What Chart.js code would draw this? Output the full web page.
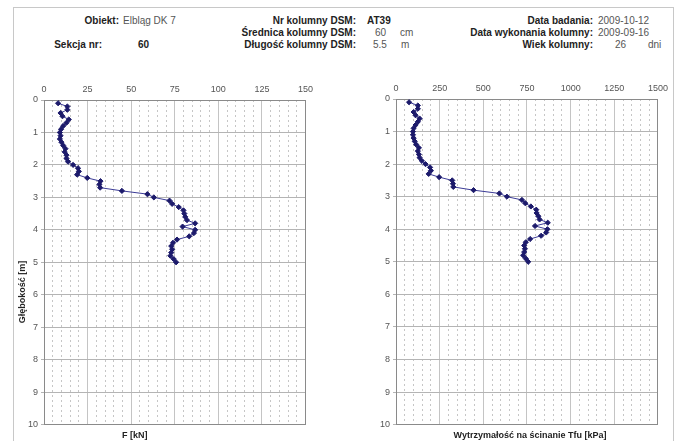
<!DOCTYPE html>
<html>
<head>
<meta charset="utf-8">
<script src="https://cdn.jsdelivr.net/npm/chart.js@4.4.1/dist/chart.umd.min.js"></script>
<style>
  body { margin: 0; background: #fff; font-family: "Liberation Sans", Arial, sans-serif; }
  #page { position: relative; width: 680px; height: 441px; overflow: hidden; }
  #frame { position: absolute; left: 13px; top: 7px; width: 659px; height: 440px;
           border: 1px solid #c8c8c8; border-bottom: none; }
  .t { position: absolute; font-size: 10px; line-height: 12px; color: #555; white-space: nowrap; }
  .b { font-weight: bold; color: #222; }
  .r { text-align: right; }
  canvas { position: absolute; }
</style>
</head>
<body>
<div id="page">
  <div id="frame"></div>

  <!-- header block -->
  <div class="t b r" style="left:0; width:119px; top:15px;">Obiekt:</div>
  <div class="t" style="left:123px; top:15px;">Elbląg DK 7</div>
  <div class="t b r" style="left:0; width:102px; top:39px;">Sekcja nr:</div>
  <div class="t b" style="left:138px; top:39px;">60</div>

  <div class="t b r" style="left:200px; width:156px; top:15px;">Nr kolumny DSM:</div>
  <div class="t b r" style="left:200px; width:156px; top:27px;">Średnica kolumny DSM:</div>
  <div class="t b r" style="left:200px; width:156px; top:39px;">Długość kolumny DSM:</div>
  <div class="t b" style="left:367px; top:15px;">AT39</div>
  <div class="t" style="left:375px; top:27px;">60</div>
  <div class="t" style="left:400px; top:27px;">cm</div>
  <div class="t" style="left:373px; top:39px;">5.5</div>
  <div class="t" style="left:401px; top:39px;">m</div>

  <div class="t b r" style="left:400px; width:193px; top:15px;">Data badania:</div>
  <div class="t b r" style="left:400px; width:193px; top:27px;">Data wykonania kolumny:</div>
  <div class="t b r" style="left:400px; width:193px; top:39px;">Wiek kolumny:</div>
  <div class="t" style="left:598px; top:15px;">2009-10-12</div>
  <div class="t" style="left:598px; top:27px;">2009-09-16</div>
  <div class="t" style="left:615px; top:39px;">26</div>
  <div class="t" style="left:648px; top:39px;">dni</div>

  <canvas id="forceChart" style="left:20px; top:78px;" width="298" height="355"></canvas>
  <canvas id="shearChart" style="left:372px; top:77px;" width="301" height="356"></canvas>

  <div class="t b" style="left:-28px; top:286px; width:100px; text-align:center; font-size:9px; transform: rotate(-90deg);">Głębokość [m]</div>
  <div class="t b" style="left:122px; top:429px; font-size:9px;">F [kN]</div>
  <div class="t b" style="left:430px; width:200px; top:429px; text-align:center; font-size:9px;">Wytrzymałość na ścinanie Tfu [kPa]</div>
</div>

<script>
// Sounding depths [m]
const depths = [
  0.1, 0.2, 0.3, 0.4, 0.5, 0.6, 0.7, 0.8, 0.9, 1.0,
  1.1, 1.2, 1.3, 1.4, 1.5, 1.6, 1.7, 1.8, 1.9, 2.0,
  2.1, 2.2, 2.3, 2.4, 2.5, 2.6, 2.7, 2.8, 2.9, 3.0,
  3.1, 3.2, 3.3, 3.4, 3.5, 3.6, 3.7, 3.8, 3.9, 4.0,
  4.1, 4.2, 4.3, 4.4, 4.5, 4.6, 4.7, 4.8, 4.9, 5.0,
];

// Force F [kN]
const forceKN = [
  8.1, 13.4, 13.4, 9.5, 10.6, 14.2, 12.9, 11.0, 9.8, 9.1,
  9.5, 9.1, 10.0, 11.0, 12.3, 11.9, 12.9, 12.9, 13.8, 16.7,
  19.5, 20.0, 19.0, 24.8, 32.4, 31.8, 32.2, 44.7, 59.3, 63.0,
  72.0, 73.5, 77.3, 80.0, 80.5, 81.0, 82.0, 86.7, 79.5, 86.7,
  86.0, 83.3, 76.3, 74.0, 73.0, 73.5, 73.0, 72.5, 74.4, 75.8,
];

// Shear strength Tfu [kPa]
const shearKPa = [
  75, 125, 125, 101, 112, 135, 125, 112, 101, 97,
  97, 101, 107, 116, 131, 125, 131, 135, 148, 169,
  195, 200, 187, 247, 322, 326, 328, 444, 592, 635,
  721, 740, 772, 803, 805, 815, 822, 869, 796, 867,
  860, 831, 768, 743, 734, 738, 734, 728, 743, 757,
];

// Axis ranges / ticks
const depthRange = [0, 10];
const forceRange = [0, 150];
const forceMajorStep = 25;
const forceMinorStep = 5;
const shearRange = [0, 1500];
const shearMajorStep = 250;
const shearMinorStep = 50;

const lineColor = "#3b3b96";
const pointColor = "#1c1a6b";
const tickFont = { size: 9, family: "'Liberation Sans', Arial, sans-serif" };

function buildConfig(values, range, majorStep, minorStep) {
  const points = values.map((v, i) => ({ x: v, y: depths[i] }));
  return {
    type: "scatter",
    data: {
      datasets: [
        {
          data: points,
          showLine: true,
          borderColor: lineColor,
          borderWidth: 1,
          backgroundColor: pointColor,
          pointBackgroundColor: pointColor,
          pointBorderColor: pointColor,
          pointStyle: "rectRot",
          pointRadius: 2.6,
          pointBorderWidth: 1,
        },
      ],
    },
    options: {
      responsive: false,
      animation: false,
      events: [],
      layout: { padding: 0 },
      plugins: { legend: { display: false }, tooltip: { enabled: false } },
      scales: {
        x: {
          type: "linear",
          position: "top",
          min: range[0],
          max: range[1],
          ticks: {
            stepSize: majorStep,
            font: tickFont,
            color: "#555",
            padding: 5,
            callback: (value) => String(value),
          },
          grid: { color: "#c4c4c4", lineWidth: 1, drawTicks: false },
          border: { display: true, color: "#8a8a8a" },
          afterFit: (scale) => { scale.height = 22; },
        },
        xMinor: {
          type: "linear",
          position: "bottom",
          min: range[0],
          max: range[1],
          ticks: { stepSize: minorStep, display: false },
          grid: {
            color: (ctx) => (ctx.tick && ctx.tick.value % majorStep === 0 ? "rgba(0,0,0,0)" : "#c6c6c6"),
            lineWidth: 1,
            drawTicks: false,
          },
          border: { display: true, color: "#8a8a8a", dash: [2, 3] },
          afterFit: (scale) => { scale.height = 6; },
        },
        y: {
          type: "linear",
          position: "left",
          reverse: true,
          min: depthRange[0],
          max: depthRange[1],
          ticks: { stepSize: 1, font: tickFont, color: "#555", padding: 3 },
          grid: { color: "#b4b4b4", lineWidth: 1, tickLength: 3 },
          border: { display: true, color: "#8a8a8a" },
          afterFit: (scale) => { scale.width = 24; },
        },
        yRight: {
          type: "linear",
          position: "right",
          reverse: true,
          min: depthRange[0],
          max: depthRange[1],
          ticks: { stepSize: 1, display: false },
          grid: { display: false, drawTicks: false },
          border: { display: true, color: "#8a8a8a" },
          afterFit: (scale) => { scale.width = 10; },
        },
      },
    },
  };
}

document.addEventListener("DOMContentLoaded", function () {
  new Chart(
    document.getElementById("forceChart"),
    buildConfig(forceKN, forceRange, forceMajorStep, forceMinorStep)
  );
  new Chart(
    document.getElementById("shearChart"),
    buildConfig(shearKPa, shearRange, shearMajorStep, shearMinorStep)
  );
});
</script>
</body>
</html>
